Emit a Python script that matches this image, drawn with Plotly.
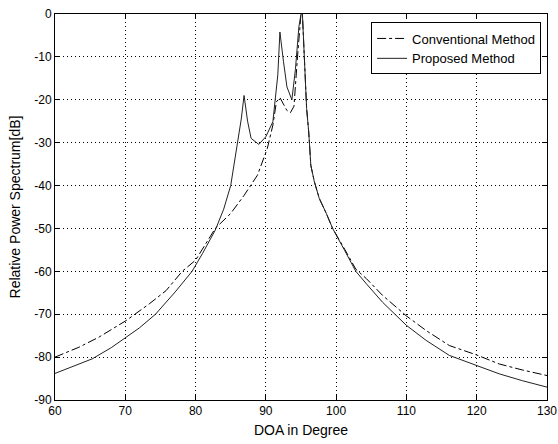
import plotly.graph_objects as go

# Proposed Method (solid)
prop_x = [60, 62, 65.3, 68, 70, 72, 74.3, 77.1, 79.5, 81, 82.8, 84, 85, 86.0, 86.5, 86.9,
          87.4, 87.9, 89.0, 90.0, 91.0, 91.7, 92.0, 92.5, 93.0, 93.7, 94.2, 94.7, 95.0, 95.2,
          95.5, 95.8, 96.1, 96.4, 96.9, 97.6, 98.6, 99.5, 101.2, 102.8, 104.3, 106.6, 110,
          112.8, 116.1, 120, 123.2, 126.5, 130]
prop_y = [-83.8, -82.5, -80.4, -77.8, -75.6, -73.2, -70.0, -64.8, -60.0, -55.8, -50.4, -45.5, -40.0, -30.0, -24.5, -19.0,
          -25.0, -29.0, -30.4, -28.6, -25.1, -14.2, -4.2, -11.0, -17.0, -20.0, -13.0, -3.0, 0, 0,
          -11.9, -22.0, -27.5, -35.3, -39.1, -43.0, -46.5, -50.0, -55.1, -60.0, -62.9, -67.2, -72.6,
          -76.1, -79.6, -82.0, -83.9, -85.5, -87.0]

# Conventional Method (dash-dot)
conv_x = [60, 63.4, 66.3, 70.1, 73.4, 75.8, 78.1, 80, 82.8, 85, 86.9, 88.8, 90.2, 91.0, 91.5,
          92, 92.5, 93, 93.5, 94, 94.5, 95, 95.2, 95.5, 95.8, 96.1, 96.4, 96.9, 97.6, 98.6, 99.5,
          101.2, 102.8, 104.3, 106.6, 110, 112.8, 116.1, 120, 123.2, 126.5, 130]
conv_y = [-80.0, -77.7, -75.3, -71.5, -67.6, -64.5, -60.0, -57.4, -50.0, -46.5, -42.3, -37.6, -31.4, -25.9, -20.5,
          -19.5, -21.0, -22.5, -23.0, -21.5, -10.0, 0, 0, -11.9, -22.0, -27.5, -35.3, -39.1, -43.0, -46.5, -50.0,
          -54.8, -59.5, -61.7, -65.6, -70.4, -73.8, -77.3, -79.5, -81.6, -83.0, -84.3]

x_ticks = [60, 70, 80, 90, 100, 110, 120, 130]
y_ticks = [0, -10, -20, -30, -40, -50, -60, -70, -80, -90]

FONT = "Liberation Sans, Arial"

fig = go.Figure()
fig.add_trace(go.Scatter(x=conv_x, y=conv_y, mode="lines", name="Conventional Method",
                         line=dict(color="black", width=1, dash="dashdot")))
fig.add_trace(go.Scatter(x=prop_x, y=prop_y, mode="lines", name="Proposed Method",
                         line=dict(color="#222222", width=1)))

axis_common = dict(
    showline=True, linecolor="black", linewidth=1, mirror="ticks",
    ticks="inside", ticklen=5, tickcolor="black",
    showgrid=True, gridcolor="black", gridwidth=1, griddash="1px,3px",
    zeroline=False, tickfont=dict(family=FONT, size=12, color="black"),
)

fig.update_xaxes(range=[60, 130], tickvals=x_ticks, ticktext=[str(v) for v in x_ticks],
                 title=dict(text="DOA in Degree", standoff=7,
                            font=dict(family=FONT, size=14, color="black")),
                 **axis_common)
fig.update_yaxes(range=[-90, 0], tickvals=y_ticks, ticktext=[str(v) for v in y_ticks],
                 title=dict(text="Relative Power Spectrum[dB]", standoff=10,
                            font=dict(family=FONT, size=14, color="black")),
                 **axis_common)

fig.update_layout(
    width=558, height=444,
    margin=dict(l=55, r=11, t=14, b=44, autoexpand=False),
    paper_bgcolor="white", plot_bgcolor="white",
    showlegend=True,
    legend=dict(x=0.988, y=0.978, xanchor="right", yanchor="top",
                bgcolor="white", bordercolor="black", borderwidth=1,
                font=dict(family=FONT, size=13, color="black"),
                tracegroupgap=0, itemwidth=30),
    font=dict(family=FONT, size=13, color="black"),
)

fig.write_html("out.html", config={"displayModeBar": False},
               post_script="document.body.style.margin='0';")
